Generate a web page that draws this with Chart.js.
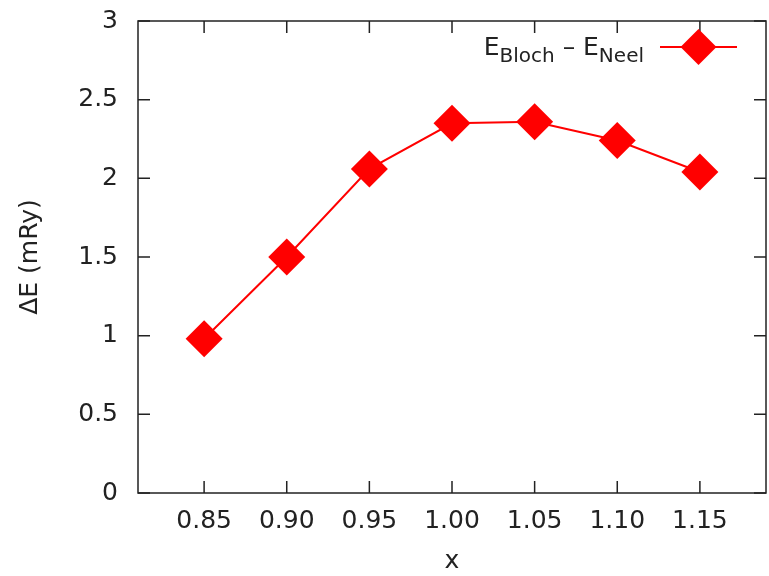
<!DOCTYPE html>
<html>
<head>
<meta charset="utf-8">
<script src="https://cdn.jsdelivr.net/npm/chart.js@4.4.1/dist/chart.umd.min.js"></script>
<style>
  html, body { margin: 0; padding: 0; background: #fff; }
  #wrap { width: 769px; height: 576px; }
</style>
</head>
<body>
<div id="wrap"><canvas id="chartCanvas" width="769" height="576"></canvas></div>
<script>
"use strict";

const xValues = [0.85, 0.90, 0.95, 1.00, 1.05, 1.10, 1.15];
const deltaE = [0.98, 1.50, 2.06, 2.35, 2.36, 2.24, 2.04];
const xTicks = [0.85, 0.90, 0.95, 1.00, 1.05, 1.10, 1.15];
const yTicks = [0, 0.5, 1, 1.5, 2, 2.5, 3];
// [text, isSubscript]
const legendParts = [["E", false], ["Bloch", true], [" \u2013 ", false], ["E", false], ["Neel", true]];

const FONT = "'DejaVu Sans', sans-serif";
const RED = "#ff0000";
const INK = "#222";

// gnuplot style frame: box around the plot, ticks pointing inward on all sides
const framePlugin = {
  id: "frame",
  afterDatasetsDraw(chart) {
    const { ctx, chartArea: a, scales } = chart;
    const len = 12;
    ctx.save();
    ctx.strokeStyle = INK;
    ctx.lineWidth = 1.5;
    ctx.strokeRect(a.left, a.top, a.right - a.left, a.bottom - a.top);
    ctx.beginPath();
    xTicks.forEach(v => {
      const px = scales.x.getPixelForValue(v);
      ctx.moveTo(px, a.bottom); ctx.lineTo(px, a.bottom - len);
      ctx.moveTo(px, a.top); ctx.lineTo(px, a.top + len);
    });
    yTicks.forEach(v => {
      const py = scales.y.getPixelForValue(v);
      ctx.moveTo(a.left, py); ctx.lineTo(a.left + len, py);
      ctx.moveTo(a.right, py); ctx.lineTo(a.right - len, py);
    });
    ctx.stroke();
    ctx.restore();
  }
};

// key with subscripts, drawn in the top right corner
const keyPlugin = {
  id: "key",
  afterDraw(chart) {
    const { ctx, chartArea: a } = chart;
    const y = a.top + 26;
    const mainFont = "25px " + FONT;
    const subFont = "20px " + FONT;
    ctx.save();
    let total = 0;
    legendParts.forEach(([t, sub]) => {
      ctx.font = sub ? subFont : mainFont;
      total += ctx.measureText(t).width;
    });
    let x = a.right - 122 - total;
    ctx.fillStyle = INK;
    ctx.textBaseline = "alphabetic";
    ctx.textAlign = "left";
    legendParts.forEach(([t, sub]) => {
      ctx.font = sub ? subFont : mainFont;
      ctx.fillText(t, x, sub ? y + 15 : y + 8);
      x += ctx.measureText(t).width;
    });
    // sample line + marker
    const x0 = a.right - 106, x1 = a.right - 29, xm = (x0 + x1) / 2;
    ctx.strokeStyle = RED;
    ctx.lineWidth = 2;
    ctx.beginPath();
    ctx.moveTo(x0, y); ctx.lineTo(x1, y);
    ctx.stroke();
    ctx.fillStyle = RED;
    ctx.beginPath();
    ctx.moveTo(xm - 18, y); ctx.lineTo(xm, y - 18);
    ctx.lineTo(xm + 18, y); ctx.lineTo(xm, y + 18);
    ctx.closePath();
    ctx.fill();
    ctx.restore();
  }
};

const ctx = document.getElementById("chartCanvas").getContext("2d");

new Chart(ctx, {
  type: "line",
  data: {
    datasets: [
      {
        label: "E_Bloch - E_Neel",
        data: xValues.map((x, i) => ({ x: x, y: deltaE[i] })),
        borderColor: RED,
        backgroundColor: RED,
        borderWidth: 2,
        pointStyle: "rectRot",
        pointRadius: 18.5,
        pointBorderWidth: 0,
        pointHoverRadius: 18.5,
        fill: false,
        tension: 0,
      },
    ],
  },
  options: {
    responsive: false,
    animation: false,
    devicePixelRatio: 1,
    layout: { autoPadding: false, padding: { left: 0, top: 21, right: 3, bottom: 0 } },
    plugins: {
      legend: { display: false },
      tooltip: { enabled: false },
    },
    scales: {
      x: {
        type: "linear",
        min: 0.81,
        max: 1.19,
        afterBuildTicks: s => { s.ticks = xTicks.map(v => ({ value: v })); },
        afterFit: s => {
          s.height = 83;
          s.paddingLeft = 0;
          s.paddingRight = 0;
        },
        grid: { display: false, drawTicks: false },
        border: { display: false },
        ticks: {
          color: INK,
          font: { family: FONT, size: 25 },
          padding: 13,
          maxRotation: 0,
          autoSkip: false,
          callback: v => v.toFixed(2),
        },
        title: {
          display: true,
          text: "x",
          color: INK,
          font: { family: FONT, size: 25 },
          padding: { top: 0, bottom: 0 },
        },
      },
      y: {
        min: 0,
        max: 3,
        afterBuildTicks: s => { s.ticks = yTicks.map(v => ({ value: v })); },
        afterFit: s => {
          s.width = 138;
          s.paddingTop = 0;
          s.paddingBottom = 0;
        },
        grid: { display: false, drawTicks: false },
        border: { display: false },
        ticks: {
          color: INK,
          font: { family: FONT, size: 25 },
          padding: 20,
          callback: v => String(v),
        },
        title: {
          display: true,
          text: "\u0394E (mRy)",
          color: INK,
          font: { family: FONT, size: 25 },
          padding: { top: 15, bottom: 0 },
        },
      },
    },
  },
  plugins: [framePlugin, keyPlugin],
});
</script>
</body>
</html>
